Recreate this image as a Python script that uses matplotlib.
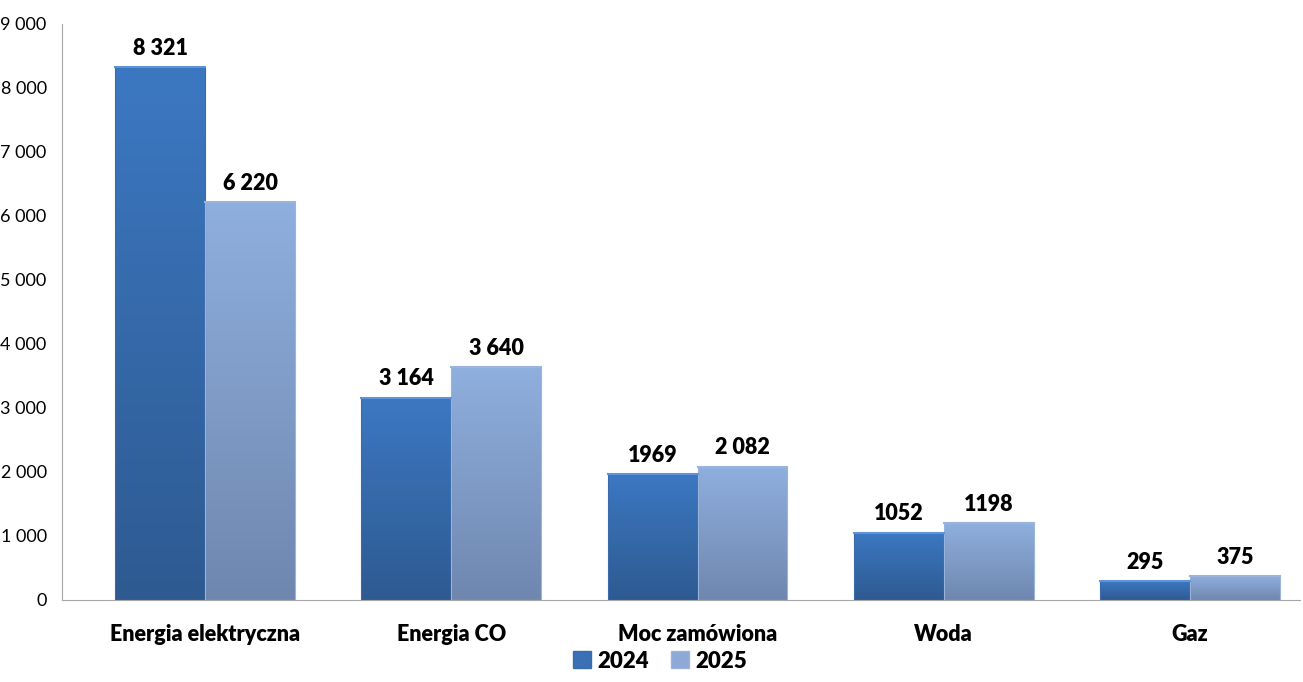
import matplotlib
matplotlib.use("Agg")
import matplotlib.pyplot as plt
import numpy as np
from matplotlib.colors import LinearSegmentedColormap
from matplotlib.patches import Rectangle

categories = ["Energia elektryczna", "Energia CO", "Moc zamówiona", "Woda", "Gaz"]
series_names = ["2024", "2025"]
values_2024 = [8321, 3164, 1969, 1052, 295]
values_2025 = [6220, 3640, 2082, 1198, 375]
labels_2024 = ["8 321", "3 164", "1969", "1052", "295"]
labels_2025 = ["6 220", "3 640", "2 082", "1198", "375"]
yticks = [0, 1000, 2000, 3000, 4000, 5000, 6000, 7000, 8000, 9000]
ytick_labels = ["0", "1 000", "2 000", "3 000", "4 000", "5 000", "6 000", "7 000", "8 000", "9 000"]

plt.rcParams['font.family'] = ['Lato', 'DejaVu Sans']

fig = plt.figure(figsize=(13.03, 6.82), dpi=100)
ax = fig.add_axes([62/1303, 1-600/682, 1238/1303, 576/682])

n = len(categories)
x = np.arange(n)
w = 0.365

grad = {
    "2024": ("#2E5A91", "#3C78C2"),
    "2025": ("#6F87AF", "#8FAFDE"),
}
edge = {"2024": "#3A6CAD", "2025": "#9AB4DC"}

def draw_bar(x0, h, name):
    c0, c1 = grad[name]
    cmap = LinearSegmentedColormap.from_list(name, [c0, c1])
    g = np.linspace(0, 1, 256).reshape(-1, 1)
    im = ax.imshow(g, cmap=cmap, origin='lower', aspect='auto',
                   extent=[x0, x0 + w, 0, h], zorder=2)
    r = Rectangle((x0, 0), w, h, facecolor='none', edgecolor=edge[name], lw=0.8, zorder=3)
    ax.add_patch(r)
    im.set_clip_path(r)
    ax.plot([x0, x0 + w], [h, h], color=edge[name] if name == "2025" else "#5F95D8", lw=1.5, zorder=4)

for i in range(n):
    draw_bar(x[i] - w, values_2024[i], "2024")
    draw_bar(x[i], values_2025[i], "2025")
    ax.text(x[i] - w/2, values_2024[i] + 130, labels_2024[i], ha='center', va='bottom',
            fontsize=15.5, fontweight='heavy')
    ax.text(x[i] + w/2, values_2025[i] + 130, labels_2025[i], ha='center', va='bottom',
            fontsize=15.5, fontweight='heavy')

ax.set_xlim(-0.581, -0.581 + 1238/246.25)
ax.set_ylim(0, 9000)
ax.set_yticks(yticks)
ax.set_yticklabels(ytick_labels, fontsize=13)
ax.set_xticks(x)
ax.set_xticklabels(categories, fontsize=15.5, fontweight='heavy')
ax.tick_params(axis='both', length=0)
ax.tick_params(axis='y', pad=11)
ax.tick_params(axis='x', pad=17)
for s in ['top', 'right']:
    ax.spines[s].set_visible(False)
ax.spines['left'].set_color('#A6A6A6')
ax.spines['bottom'].set_color('#A6A6A6')

handles = [Rectangle((0, 0), 1, 1, facecolor="#3A70B5", edgecolor="#3A6CAD"),
           Rectangle((0, 0), 1, 1, facecolor="#8EA9D6", edgecolor="#9AB4DC")]
leg = fig.legend(handles, series_names, loc='center', bbox_to_anchor=(660/1303, 1-661/682),
                 ncol=2, frameon=False, prop={'size': 16, 'weight': 'heavy'},
                 handlelength=0.8, handleheight=0.8, handletextpad=0.3, columnspacing=1.0)

fig.savefig("out.png", dpi=100)
